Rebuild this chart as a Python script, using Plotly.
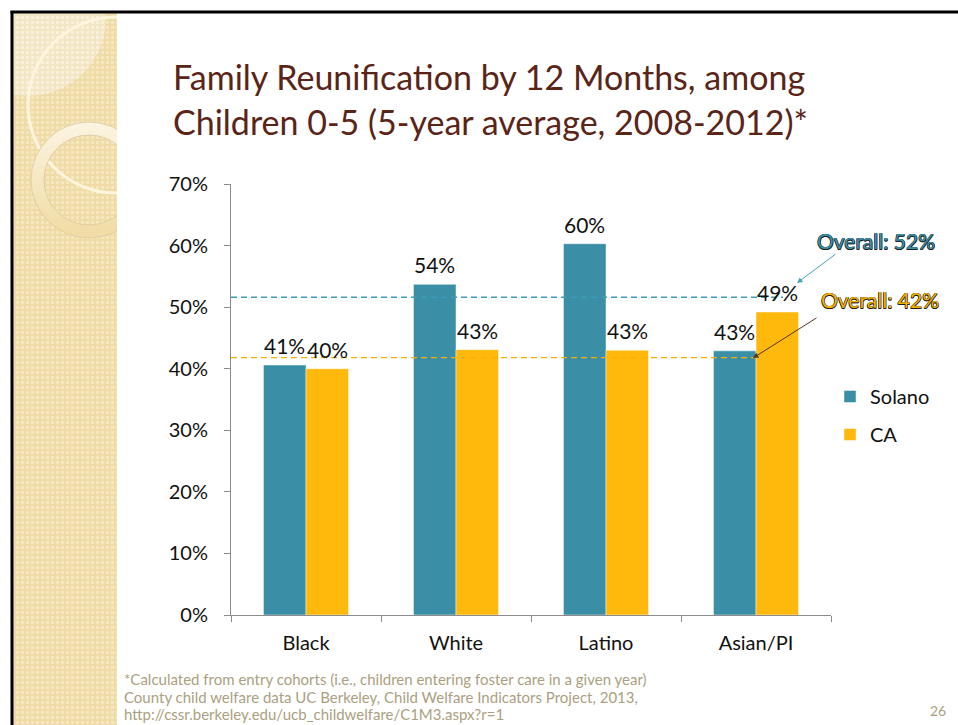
import base64
import plotly.graph_objects as go

# ---- data -------------------------------------------------------------
groups = ["Black", "White", "Latino", "Asian/PI"]
solano = [40.6, 53.7, 60.3, 42.9]
ca = [40.0, 43.1, 43.0, 49.2]
overall_solano = 51.6
overall_ca = 41.8
series_names = ["Solano", "CA"]
y_ticks = [0, 10, 20, 30, 40, 50, 60, 70]

title_lines = [
    "Family Reunification by 12 Months, among",
    "Children 0-5 (5-year average, 2008-2012)*",
]
footnote = [
    "*Calculated from entry cohorts (i.e., children entering foster care in a given year)",
    "County child welfare data UC Berkeley, Child Welfare Indicators Project, 2013,",
    "http://cssr.berkeley.edu/ucb_childwelfare/C1M3.aspx?r=1",
]
page_number = "26"

# ---- styling ------------------------------------------------------------
W, H = 958, 725
ML, MR, MT, MB = 231, 127, 184, 110
FONT = "Lato"
TEAL = "#3a8fa6"
GOLD = "#ffb80c"
TITLE_COLOR = "#5a2417"
NOTE_COLOR = "#ab9f80"
BARGAP = 0.433

PW, PH = W - ML - MR, H - MT - MB
BAR_PX = PW / len(groups) * (1 - BARGAP) / 2  # width of one bar in pixels


def fx(px):
    return (px - ML) / PW


def fy(py):
    return (H - MB - py) / PH


# slide background: textured side strip with rings and a black frame
svg = f"""<svg xmlns='http://www.w3.org/2000/svg' width='{W}' height='{H}' viewBox='0 0 {W} {H}'>
<defs>
 <pattern id='chk' width='5' height='5' patternUnits='userSpaceOnUse'>
  <rect width='5' height='5' fill='#efdba6'/>
  <rect x='1' y='1' width='3' height='3' fill='#f6e7c0'/>
 </pattern>
 <pattern id='chk2' width='5' height='5' patternUnits='userSpaceOnUse'>
  <rect width='5' height='5' fill='#f3e6c4'/>
  <rect x='1' y='1' width='3' height='3' fill='#faf1dc'/>
 </pattern>
 <linearGradient id='ring' x1='0' y1='0' x2='0' y2='1'>
  <stop offset='0' stop-color='#fbf3de'/>
  <stop offset='1' stop-color='#f1dca6'/>
 </linearGradient>
 <clipPath id='strip'><rect x='13' y='13' width='104' height='{H}'/></clipPath>
</defs>
<rect width='{W}' height='{H}' fill='white'/>
<g clip-path='url(#strip)'>
 <rect x='13' y='13' width='104' height='{H}' fill='url(#chk)'/>
 <circle cx='28' cy='18' r='78' fill='url(#chk2)'/>
 <circle cx='116' cy='105' r='88' fill='none' stroke='#fdf5dd' stroke-width='3'/>
 <circle cx='89' cy='180' r='51.5' fill='none' stroke='url(#ring)' stroke-width='13'/>
 <circle cx='89' cy='180' r='58' fill='none' stroke='#dccaa0' stroke-width='0.8'/>
 <circle cx='89' cy='180' r='45' fill='none' stroke='#dccaa0' stroke-width='0.8'/>
</g>
<line x1='10.5' y1='12' x2='{W}' y2='12' stroke='black' stroke-width='3'/>
<line x1='12' y1='11' x2='12' y2='{H}' stroke='black' stroke-width='3'/>
</svg>"""
svg_uri = "data:image/svg+xml;base64," + base64.b64encode(svg.encode()).decode()

fig = go.Figure()
series = [(series_names[0], solano, TEAL, -1), (series_names[1], ca, GOLD, 1)]
annotations = []
for name, vals, color, side in series:
    fig.add_trace(go.Bar(
        x=groups, y=vals, name=name, legendgroup=name,
        marker=dict(color=color, line=dict(color="rgba(255,255,255,0.45)", width=1)),
    ))
    # value labels above each bar
    for g, v in zip(groups, vals):
        annotations.append(dict(
            text=f"{v:.0f}%", xref="x", yref="y", x=g, y=v,
            xshift=side * BAR_PX / 2, yshift=5, xanchor="center", yanchor="bottom",
            showarrow=False, font=dict(family=FONT, size=21, color="#111")))

# overall reference lines
fig.add_shape(type="line", xref="x", yref="y", x0=-0.5, x1=3.18,
              y0=overall_solano, y1=overall_solano, layer="above",
              line=dict(color="#3f9cb8", width=1.4, dash="6px,4px"))
fig.add_shape(type="line", xref="x", yref="y", x0=-0.5, x1=3.0,
              y0=overall_ca, y1=overall_ca, layer="above",
              line=dict(color="#f7b000", width=1.4, dash="6px,4px"))

# title
for i, line in enumerate(title_lines):
    annotations.append(dict(
        text=line, xref="paper", yref="paper", x=fx(171), y=fy(54 + i * 45),
        xanchor="left", yanchor="top", showarrow=False,
        font=dict(family=FONT, size=34, color=TITLE_COLOR)))

outline = "0.5px 0.5px 0 #1e1e1e, -0.5px -0.5px 0 #1e1e1e, 0.5px -0.5px 0 #1e1e1e, -0.5px 0.5px 0 #1e1e1e"
annotations.append(dict(
    text=f"Overall: {overall_solano:.0f}%", xref="paper", yref="paper",
    x=fx(876), y=fy(240), xanchor="center", yanchor="middle", showarrow=False,
    font=dict(family=FONT, size=21, color="#3a8fa6", shadow=outline)))
annotations.append(dict(
    text=f"Overall: {overall_ca:.0f}%", xref="paper", yref="paper",
    x=fx(880), y=fy(299), xanchor="center", yanchor="middle", showarrow=False,
    font=dict(family=FONT, size=21, color="#f3b100", shadow=outline)))
# pointer arrows
annotations.append(dict(
    text="", xref="paper", yref="paper", x=fx(797), y=fy(283), ax=40, ay=-30,
    showarrow=True, arrowhead=2, arrowsize=1.1, arrowwidth=1, arrowcolor="#4aa3bd"))
annotations.append(dict(
    text="", xref="paper", yref="paper", x=fx(753), y=fy(358), ax=65, ay=-41,
    showarrow=True, arrowhead=2, arrowsize=1.1, arrowwidth=1, arrowcolor="#5a3424"))
# footnote and page number
for i, line in enumerate(footnote):
    annotations.append(dict(
        text=line, xref="paper", yref="paper", x=fx(122), y=fy(679 + i * 17.5),
        xanchor="left", yanchor="middle", align="left", showarrow=False,
        font=dict(family=FONT, size=15, color=NOTE_COLOR)))
annotations.append(dict(
    text=page_number, xref="paper", yref="paper", x=fx(938), y=fy(710),
    xanchor="center", yanchor="middle", showarrow=False,
    font=dict(family=FONT, size=14, color=NOTE_COLOR)))

fig.update_layout(
    width=W, height=H,
    margin=dict(l=ML, r=MR, t=MT, b=MB, pad=0),
    paper_bgcolor="white", plot_bgcolor="rgba(0,0,0,0)",
    barmode="group", bargap=BARGAP, bargroupgap=0,
    font=dict(family=FONT, size=20, color="#111"),
    showlegend=True,
    legend=dict(x=fx(830), y=fy(377), xanchor="left", yanchor="top",
                bgcolor="rgba(0,0,0,0)", tracegroupgap=9, traceorder="grouped",
                font=dict(family=FONT, size=20, color="#111")),
    annotations=annotations,
    images=[dict(source=svg_uri, xref="paper", yref="paper", x=fx(0), y=fy(0),
                 sizex=W / PW, sizey=H / PH, xanchor="left", yanchor="top",
                 sizing="stretch", layer="below")],
)
fig.update_xaxes(
    showline=True, linecolor="#8c8c8c", linewidth=1,
    ticks="outside", ticklen=6, tickcolor="#8c8c8c", tickson="boundaries",
    ticklabelstandoff=10,
    tickfont=dict(family=FONT, size=20, color="#111"),
    showgrid=False, zeroline=False, range=[-0.5, 3.5],
)
fig.update_yaxes(
    range=[0, 70], tickvals=y_ticks, ticktext=[f"{v}%" for v in y_ticks],
    showline=True, linecolor="#8c8c8c", linewidth=1,
    ticks="outside", ticklen=6, tickcolor="#8c8c8c", ticklabelstandoff=12,
    tickfont=dict(family=FONT, size=20, color="#111"),
    showgrid=False, zeroline=False,
)

fig.write_html("out.html")
